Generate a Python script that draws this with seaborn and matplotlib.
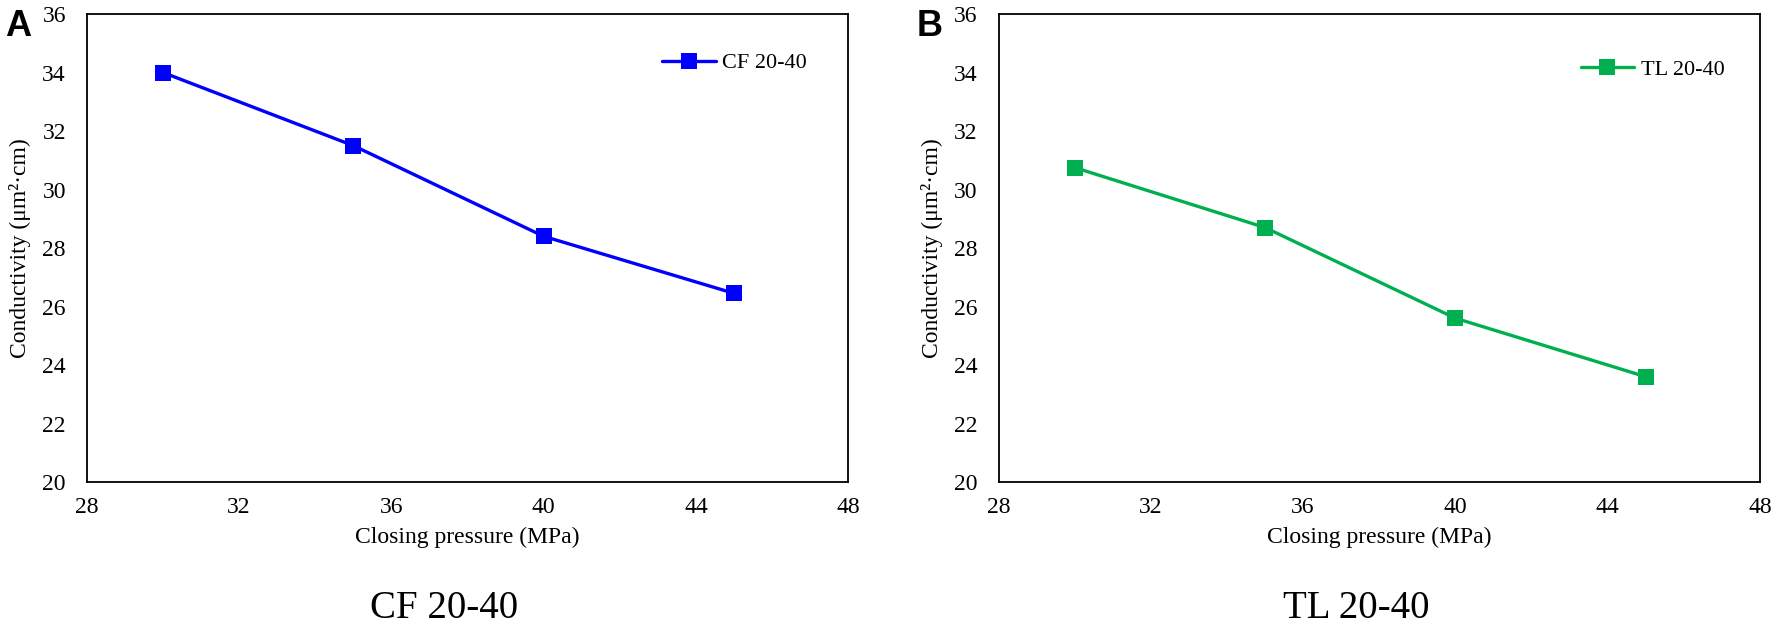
import matplotlib
matplotlib.use("Agg")
import matplotlib.pyplot as plt
import seaborn as sns
import pandas as pd

# closing pressure (MPa) and conductivity (um2.cm)
pressure = [30, 35, 40, 45]
cf_conductivity = [34.0, 31.5, 28.4, 26.45]
tl_conductivity = [30.75, 28.7, 25.6, 23.6]

panels = [
    ("A", "CF 20-40", cf_conductivity, "#0000FF", 0.0490, 0.754, 0.895),
    ("B", "TL 20-40", tl_conductivity, "#00B050", 0.5635, 0.763, 0.882),
]

sns.set_style("white")
plt.rcParams["font.family"] = ["Liberation Serif", "DejaVu Serif"]
for k in ["text.color", "axes.labelcolor", "xtick.color", "ytick.color"]:
    plt.rcParams[k] = "black"

fig = plt.figure(figsize=(17.72, 6.31), dpi=100)

for letter, name, values, color, left, lx, ly in panels:
    ax = fig.add_axes([left, 0.2361, 0.4297, 0.7417])
    df = pd.DataFrame({"pressure": pressure, "conductivity": values})
    sns.lineplot(data=df, x="pressure", y="conductivity", ax=ax, color=color,
                 marker="s", markersize=12, markeredgewidth=0, linewidth=2.4,
                 label=name)
    ax.set_xlim(28, 48)
    ax.set_ylim(20, 36)
    ax.set_xticks(range(28, 49, 4))
    ax.set_yticks(range(20, 37, 2))
    ax.tick_params(length=0, labelsize=17)
    ax.tick_params(axis="y", pad=15)
    ax.tick_params(axis="x", pad=11)
    for s in ax.spines.values():
        s.set_color("black")
        s.set_linewidth(1.3)
    ax.set_xlabel("Closing pressure (MPa)", fontsize=17, labelpad=6)
    ax.set_ylabel("Conductivity (\u03bcm\u00b2\u00b7cm)", fontsize=17, labelpad=8)
    ax.legend(loc="center left", bbox_to_anchor=(lx - 0.01, ly), frameon=False,
              fontsize=16, handlelength=2.4, handletextpad=0.3,
              borderaxespad=0)

    # panel letter and caption under the axes
    bb = ax.get_position()
    fig.text(bb.x0 - 0.046, 0.985, letter, fontsize=26, fontweight="bold",
             family=["Liberation Sans", "DejaVu Sans"], va="top", ha="left")
    fig.text(bb.x0 + bb.width / 2 - 0.013, 0.035, name, fontsize=28,
             ha="center", va="center")

fig.savefig("out.png", dpi=100)
